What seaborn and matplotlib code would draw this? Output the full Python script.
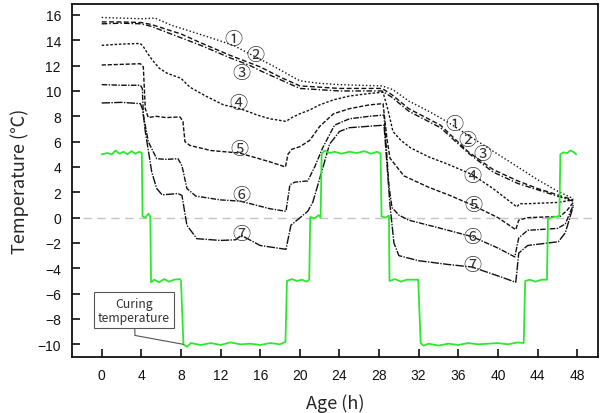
import matplotlib
matplotlib.use("Agg")
import matplotlib.pyplot as plt
import seaborn as sns
import pandas as pd

# ---------------- data ----------------
green_h = [0, 0.6, 1.0, 1.4, 1.8, 2.2, 2.6, 3.0, 3.4, 3.8, 4.05, 4.12, 4.4, 4.7, 4.9, 4.98,
           5.3, 5.8, 6.3, 6.8, 7.3, 7.9, 8.0, 8.25, 8.6, 9, 10, 11, 12, 13, 14, 15, 16, 17, 18,
           18.55, 18.7, 19.2, 19.7, 20.2, 20.7, 20.95, 21.05, 21.5, 21.9, 22.1, 22.2, 22.5, 23,
           23.5, 24.2, 25, 25.8, 26.5, 27.2, 27.8, 28.15, 28.25, 28.6, 29.0, 29.05, 29.6, 30.2,
           30.8, 31.4, 31.95, 32.2, 32.5, 33, 34, 35, 36, 37, 38, 39, 40, 41, 42, 42.6, 42.75,
           43.2, 43.8, 44.4, 44.95, 45.05, 45.6, 46.2, 46.3, 46.6, 47.0, 47.3, 47.6, 47.9]
green_t = [5.0, 5.1, 5.0, 5.3, 5.05, 5.2, 5.0, 5.25, 5.05, 5.2, 5.1, 0.1, 0.0, 0.3, 0.1, -5.1,
           -4.9, -5.1, -4.85, -5.05, -4.9, -4.85, -5.0, -10.0, -10.2, -9.9, -10.05, -9.9, -10.05,
           -9.85, -10.0, -9.95, -10.05, -9.9, -10.0,
           -9.8, -5.0, -4.85, -5.0, -4.9, -5.05, -4.9, 0.05, -0.05, 0.2, 0.0, 5.0, 5.3, 5.1,
           5.2, 5.05, 5.2, 5.1, 5.25, 5.05, 5.2, 5.05, 0.1, 0.0, 0.15, -5.0, -4.85, -5.05,
           -4.9, -4.9, -4.9, -9.9, -10.1, -9.95, -10.1, -9.95, -10.05, -9.9, -10.0, -9.95, -9.9,
           -10.0, -9.85, -9.9, -5.0,
           -4.9, -5.05, -4.9, -4.9, -0.1, 0.05, 0.1, 5.0, 5.15, 5.1, 5.3, 5.2, 5.0]

c1_h = [0, 2, 4, 5.4, 7, 9, 11, 13.3, 15, 17, 20, 22, 24, 26, 28.3, 29.4, 31, 33, 34.8, 37,
        40, 42, 44, 46, 47.6]
c1_t = [15.8, 15.75, 15.7, 15.75, 15.2, 14.7, 14.2, 13.6, 12.9, 12.1, 10.8, 10.6, 10.5, 10.45,
        10.4, 10.1, 9.2, 8.4, 7.6, 6.5, 5.0, 4.0, 3.0, 2.1, 1.5]

c23_h = [0, 2, 4, 5, 8, 10, 13, 15, 16, 18, 20, 22, 24, 26, 28.3, 29.3, 31, 34.2, 37, 39.5,
         42, 44, 46, 47.6]
c2_t = [15.45, 15.45, 15.4, 15.25, 14.5, 13.8, 12.8, 12.2, 11.9, 11.1, 10.4, 10.3, 10.2, 10.2,
        10.2, 9.7, 8.6, 7.3, 5.2, 3.8, 2.9, 2.3, 1.8, 1.4]
c3_t = [15.3, 15.35, 15.3, 15.1, 14.2, 13.6, 12.6, 12.0, 11.6, 10.9, 10.2, 10.1, 10.0, 10.0,
        10.0, 9.5, 8.4, 7.1, 5.1, 3.6, 2.7, 2.2, 1.7, 1.3]

c4_h = [0, 2, 3.9, 4.2, 4.6, 5.05, 5.8, 6.6, 8.0, 8.9, 10.5, 12.3, 14, 15.7, 17, 18.6, 19.2,
        20, 21, 22, 23.4, 25, 27, 28.4, 28.9, 29.4, 30.2, 31.2, 33, 35, 37.4, 39.5, 41.9, 42.2,
        43, 44.5, 46, 46.8, 47.6]
c4_t = [13.6, 13.7, 13.75, 13.5, 13.0, 12.5, 11.8, 11.4, 11.0, 10.3, 9.6, 8.9, 8.6, 8.1, 7.8,
        7.6, 7.9, 8.2, 8.5, 8.9, 9.3, 9.6, 9.8, 9.9, 8.5, 6.8, 6.1, 5.5, 4.8, 4.2, 3.4, 2.3,
        0.85, 1.1, 1.1, 1.15, 1.2, 1.3, 1.4]

c5_h = [0, 2, 3.9, 4.2, 4.4, 4.7, 5.5, 6.5, 7.9, 8.2, 8.4, 8.9, 11, 13.9, 17, 18.55, 18.8,
        19.2, 20, 21, 22, 23.4, 25, 27, 28.4, 28.8, 29.1, 30.5, 33, 35, 37.4, 40, 41.8, 42.1,
        43, 46.3, 47.0, 47.6]
c5_t = [12.05, 12.1, 12.15, 11.9, 8.6, 7.9, 8.0, 7.9, 7.95, 7.6, 6.0, 5.7, 5.3, 5.1, 4.4,
        4.0, 5.0, 5.4, 5.6, 6.1, 7.2, 8.2, 8.6, 8.9, 9.0, 6.2, 4.7, 3.3, 2.4, 1.8, 1.0, 0.0,
        -0.95, -0.2, 0.0, 0.1, 0.6, 1.2]

c6_h = [0, 2, 3.9, 4.1, 4.2, 4.7, 5.55, 6.5, 7.7, 8.1, 8.6, 9.5, 12, 14, 17, 18.6, 19.0, 19.5,
        20.8, 21.5, 22.3, 23.5, 25, 27, 28.5, 29.0, 29.3, 30, 31, 34, 37.4, 40, 41.7, 42.1, 43,
        46, 46.8, 47.6]
c6_t = [10.5, 10.45, 10.45, 10.2, 8.1, 6.0, 4.65, 4.6, 4.65, 4.1, 2.3, 1.7, 1.4, 1.3, 0.7,
        0.5, 2.6, 2.8, 2.9, 4.0, 5.5, 7.3, 7.8, 8.0, 8.1, 2.5, 0.8, 0.2, -0.2, -0.8, -1.5,
        -2.4, -3.1, -1.6, -1.0, -0.85, -0.5, 1.0]

c7_h = [0, 2, 3.9, 4.15, 4.4, 5.05, 5.55, 6.1, 7.7, 8.1, 8.6, 9.6, 12, 13.5, 14.1, 16, 18.6,
        19.1, 20.8, 21.3, 22.2, 23, 24, 25, 28.5, 29.1, 29.5, 30, 32, 35, 37.4, 40, 41.8, 42.1,
        43, 46.1, 46.8, 47.6]
c7_t = [9.05, 9.1, 9.0, 8.5, 6.8, 3.6, 2.3, 1.8, 1.9, 1.75, -0.6, -1.66, -1.8, -1.75, -1.4,
        -2.2, -2.5, -0.6, 0.5, 1.2, 3.6, 5.8, 6.8, 7.1, 7.3, 1.0, -2.0, -3.0, -3.4, -3.7, -3.9,
        -4.6, -5.1, -2.8, -2.2, -1.9, -1.2, 0.9]

curve_labels = ["①", "②", "③", "④", "⑤", "⑥", "⑦"]
label_pos_a = [(13.3, 14.1), (15.5, 12.8), (14.1, 11.4), (13.8, 9.05), (13.9, 5.45), (14.1, 1.76), (14.1, -1.26)]
label_pos_b = [(35.6, 7.4), (36.9, 6.1), (38.4, 5.05), (37.4, 3.3), (37.5, 0.97), (37.4, -1.5), (37.4, -3.76)]

x_ticks = list(range(0, 49, 4))
y_ticks = list(range(-10, 17, 2))

# ---------------- plot ----------------
sns.set_theme(style="white")
plt.rcParams["font.family"] = ["Liberation Sans", "DejaVu Sans"]

fig = plt.figure(figsize=(6.03, 4.14), dpi=100)
ax = fig.add_axes([0.1194, 0.1353, 0.8723, 0.8537])

ax.axhline(0, xmin=0.02, xmax=1.0, color="#c4c4c4", lw=1.0, ls=(0, (6, 4)), zorder=0)

series = [
    (c1_h, c1_t, (0, (1, 1.6))),
    (c23_h, c2_t, (0, (3.5, 1.8))),
    (c23_h, c3_t, (0, (4, 1.5, 1, 1.5))),
    (c4_h, c4_t, (0, (1.8, 1.3))),
    (c5_h, c5_t, (0, (3, 1.3))),
    (c6_h, c6_t, (0, (4, 1, 1, 1))),
    (c7_h, c7_t, (0, (6, 1, 1, 1))),
]
for h, t, ls in series:
    df = pd.DataFrame({"h": h, "t": t})
    sns.lineplot(data=df, x="h", y="t", ax=ax, color="#111111", lw=1.0,
                 estimator=None, sort=False, linestyle=ls)

gdf = pd.DataFrame({"h": green_h, "t": green_t})
sns.lineplot(data=gdf, x="h", y="t", ax=ax, color="#2ee82e", lw=1.3,
             estimator=None, sort=False)

for lab, pa, pb in zip(curve_labels, label_pos_a, label_pos_b):
    for p in (pa, pb):
        ax.text(p[0], p[1], lab, ha="center", va="center", fontsize=13, color="#333333",
                family=["Noto Sans CJK KR", "DejaVu Sans"])

ax.annotate("Curing\ntemperature", xy=(3.36, -9.3), xytext=(3.26, -7.3),
            ha="center", va="center", fontsize=8.8, color="#333333",
            family=["Noto Sans CJK KR", "DejaVu Sans"], linespacing=1.1,
            bbox=dict(boxstyle="square,pad=0.35", fc="white", ec="#555555", lw=0.8),
            arrowprops=dict(arrowstyle="-", color="#555555", lw=0.8, shrinkA=0, shrinkB=0))
ax.annotate("", xy=(8.24, -10.0), xytext=(3.36, -9.3),
            arrowprops=dict(arrowstyle="-", color="#555555", lw=0.8, shrinkA=0, shrinkB=0))

ax.set_xlim(-3, 50.1)
ax.set_ylim(-11, 16.9)
ax.set_xticks(x_ticks)
ax.set_yticks(y_ticks)
ax.tick_params(direction="in", length=6, width=1.2, labelsize=10, colors="#111111",
               bottom=True, left=True, top=False, right=False, pad=8)
for lbl in ax.get_xticklabels() + ax.get_yticklabels():
    lbl.set_family(["Liberation Sans", "DejaVu Sans"])
for s in ax.spines.values():
    s.set_color("#111111")
    s.set_linewidth(1.3)

ax.set_xlabel("Age (h)", fontsize=13, family=["Noto Sans CJK KR", "DejaVu Sans"], labelpad=8)
ax.set_ylabel("Temperature (℃)", fontsize=13, family=["Noto Sans CJK KR", "DejaVu Sans"], labelpad=6)

fig.savefig("out.png", dpi=100)
